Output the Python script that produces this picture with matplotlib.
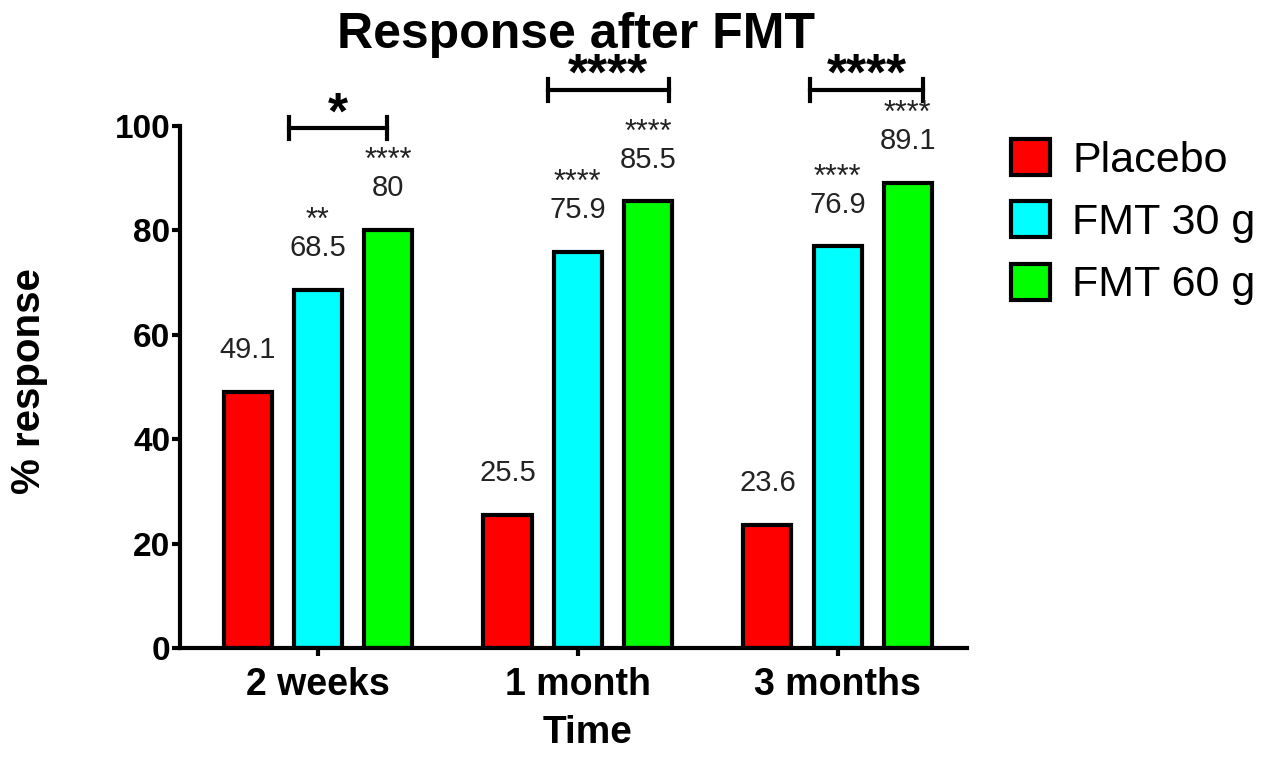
import numpy as np
import matplotlib
matplotlib.use('Agg')
from matplotlib import pyplot as plt

plt.rcParams['font.family'] = ['Liberation Sans', 'DejaVu Sans']

# data
timepoints = ['2 weeks', '1 month', '3 months']
groups = ['Placebo', 'FMT 30 g', 'FMT 60 g']
colors = ['#ff0000', '#00ffff', '#00ff00']
placebo = [49.1, 25.5, 23.6]
fmt30 = [68.5, 75.9, 76.9]
fmt60 = [80, 85.5, 89.1]
stars30 = ['**', '****', '****']
stars60 = ['****', '****', '****']
bracket_stars = ['*', '****', '****']
bracket_level = [99.6, 106.9, 106.9]

series = [placebo, fmt30, fmt60]
stars = [None, stars30, stars60]

fig = plt.figure(figsize=(12.68, 7.57), dpi=100)
ax = fig.add_axes((0.142, 0.144, 0.621, 0.69))

x = np.arange(len(timepoints))
offsets = [-0.27, 0.0, 0.27]
width = 0.185

for vals, off, col, name, st in zip(series, offsets, colors, groups, stars):
    ax.bar(x + off, vals, width, color=col, edgecolor='black', linewidth=3, label=name)
    for xi, v in zip(x + off, vals):
        ax.text(xi, v + 8, f'{v:g}', ha='center', va='center', fontsize=21, color='#222222', clip_on=False)
    if st is not None:
        for xi, v, s in zip(x + off, vals, st):
            ax.text(xi, v + 10.3, s, ha='center', va='bottom', fontsize=22, color='#222222', clip_on=False)

# brackets between FMT 30 g and FMT 60 g
spans = [(-0.11, 0.265), (-0.115, 0.35), (-0.105, 0.33)]
for xi, (a, b), lev, s in zip(x, spans, bracket_level, bracket_stars):
    ax.plot([xi + a, xi + b], [lev, lev], color='black', lw=3, clip_on=False)
    ax.plot([xi + a, xi + a], [lev + 2, lev - 2.2], color='black', lw=3, clip_on=False)
    ax.plot([xi + b, xi + b], [lev + 2, lev - 2.2], color='black', lw=3, clip_on=False)
    ax.text(xi + (a + b) / 2, lev - 2.2, s, ha='center', va='bottom', fontsize=37,
            fontweight='bold', clip_on=False)

ax.set_xlim(-0.53, 2.5)
ax.set_ylim(0, 100)
ax.set_yticks(range(0, 101, 20))
ax.set_xticks(x)
ax.set_xticklabels(timepoints)
for sp in ['top', 'right']:
    ax.spines[sp].set_visible(False)
for sp in ['left', 'bottom']:
    ax.spines[sp].set_linewidth(3)
ax.tick_params(axis='y', length=6, width=3, pad=1, labelsize=24)
ax.tick_params(axis='x', length=6, width=3, pad=8, labelsize=27)
for lab in ax.get_xticklabels() + ax.get_yticklabels():
    lab.set_fontweight('bold')

fig.text(29 / 1268, 1 - 381 / 757, '% response', rotation=90, ha='center', va='center',
         fontsize=29, fontweight='bold')
fig.text(588 / 1268, 1 - 733 / 757, 'Time', ha='center', va='center',
         fontsize=28, fontweight='bold')

fig.text(576 / 1268, 1 - 48 / 757, 'Response after FMT', ha='center', va='baseline',
         fontsize=36, fontweight='bold')

fig.legend(loc='upper left', bbox_to_anchor=(1011 / 1268, 1 - 139 / 757), frameon=False,
           fontsize=31, handlelength=0.9, handleheight=0.9, handletextpad=0.52,
           labelspacing=0.48, borderpad=0, borderaxespad=0)

plt.savefig('out.png', dpi=100)
